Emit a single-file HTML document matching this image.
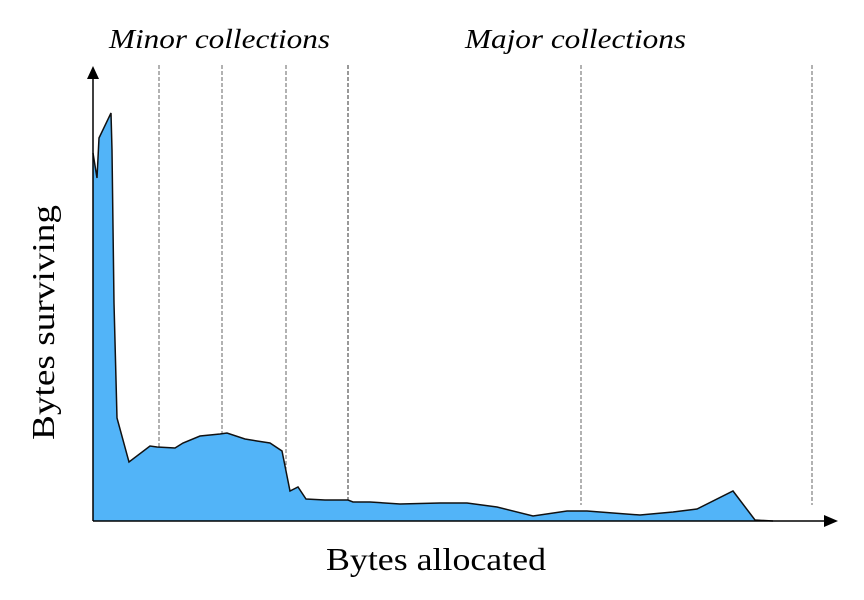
<!DOCTYPE html>
<html><head><meta charset="utf-8"><style>
html,body{margin:0;padding:0;background:#fff;width:864px;height:600px;overflow:hidden}
svg{display:block}
</style></head><body>
<svg id="chart" width="864" height="600" viewBox="0 0 864 600" xmlns="http://www.w3.org/2000/svg">
<g id="grid"></g>
<g id="series"></g>
<g>
<line x1="93" y1="521" x2="826" y2="521" stroke="#000" stroke-width="1.5"/>
<polygon points="838,521 824,515 824,527" fill="#000"/>
<line x1="93" y1="521" x2="93" y2="78" stroke="#000" stroke-width="1.5"/>
<polygon points="93,66 87,79 99,79" fill="#000"/>
</g>
<text x="109" y="48" textLength="221" lengthAdjust="spacingAndGlyphs" font-family="Liberation Serif, serif" font-style="italic" font-size="27">Minor collections</text>
<text x="465" y="48" textLength="221" lengthAdjust="spacingAndGlyphs" font-family="Liberation Serif, serif" font-style="italic" font-size="27">Major collections</text>
<text x="326" y="570" textLength="220" lengthAdjust="spacingAndGlyphs" font-family="Liberation Serif, serif" font-size="32">Bytes allocated</text>
<text transform="translate(54,440) rotate(-90)" textLength="235" lengthAdjust="spacingAndGlyphs" font-family="Liberation Serif, serif" font-size="32">Bytes surviving</text>
</svg>
<script>
const allocated=[0,4,6,18,19,20,21,24,36,57,64,82,90,107,127,134,152,164,177,189,197,205,213,232,255,260,277,307,347,374,404,440,474,494,520,547,580,604,640,662,680];
const surviving=[368,343,383,408,371,294,218,103,59,75,74,73,78,85,87,88,82,80,78,70,30,34,22,21,21,19,19,17,18,18,14,5,10,10,8,6,9,12,30,1,0];
const collections=[66,129,193,255,488,719];
const X0=93,Y0=521;
function sx(v){return X0+v;}
function sy(v){return Y0-v;}
const NS='http://www.w3.org/2000/svg';
const grid=document.getElementById('grid');
collections.forEach((c,i)=>{
  const l=document.createElementNS(NS,'line');
  
  
  l.setAttribute('x1',sx(c));l.setAttribute('x2',sx(c));
  l.setAttribute('y1',65);l.setAttribute('y2',505);
  l.setAttribute('stroke',i===3?'#333':'#666');
  l.setAttribute('stroke-width',1);
  l.setAttribute('stroke-dasharray','4,2');
  grid.appendChild(l);
});
const pts=allocated.map((a,i)=>sx(a)+','+sy(surviving[i]));
const area=document.createElementNS(NS,'polygon');


area.setAttribute('points',sx(0)+','+sy(0)+' '+pts.join(' '));
area.setAttribute('fill','#52b4f8');
document.getElementById('series').appendChild(area);
const line=document.createElementNS(NS,'polyline');


line.setAttribute('points',pts.join(' '));
line.setAttribute('fill','none');
line.setAttribute('stroke','#111');
line.setAttribute('stroke-width','1.5');
document.getElementById('series').appendChild(line);
</script>
</body></html>
